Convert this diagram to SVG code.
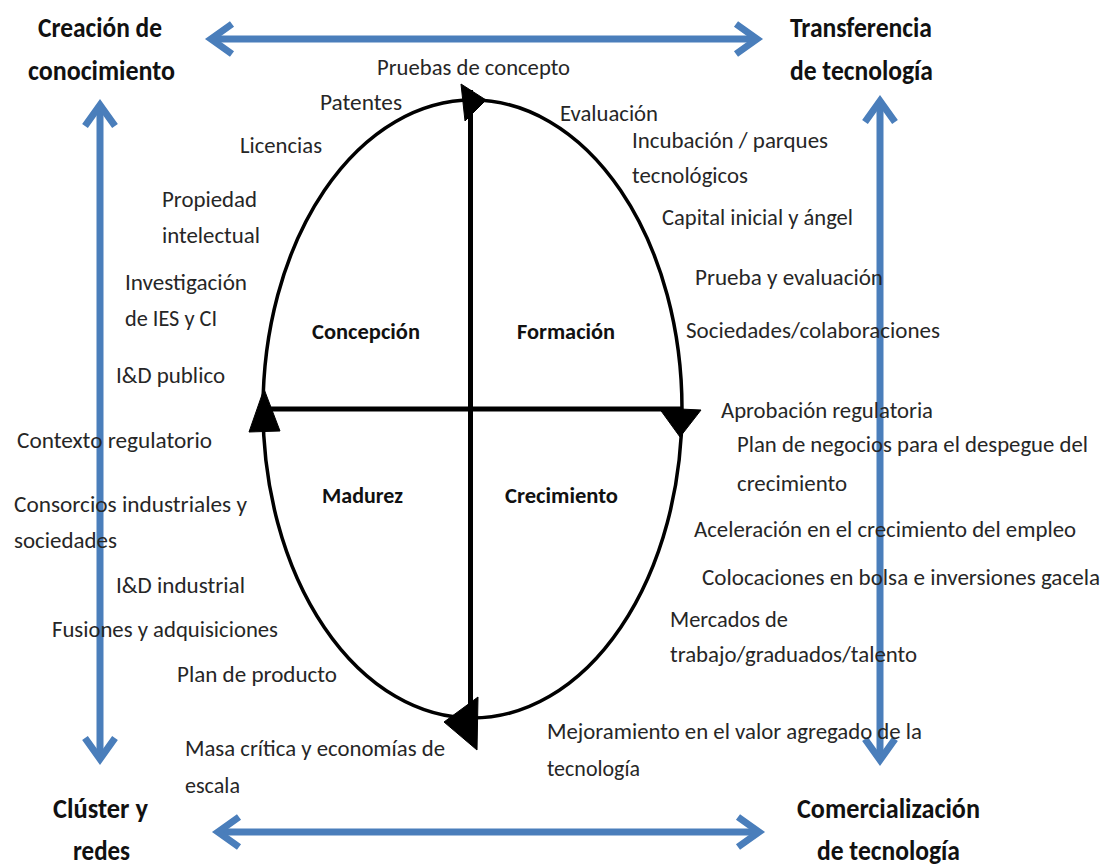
<svg xmlns="http://www.w3.org/2000/svg" width="1108" height="868" viewBox="0 0 1108 868">
<style>
.t{font-family:Carlito,Lato,"Liberation Sans",sans-serif;font-size:23px;fill:#262626}
.q{font-family:Carlito,Lato,"Liberation Sans",sans-serif;font-size:22px;font-weight:bold;fill:#111}
.c{font-family:Carlito,Lato,"Liberation Sans",sans-serif;font-size:28px;font-weight:bold;fill:#111}
.blue{stroke:#4a7ebb;stroke-width:7;fill:none}
.blk{stroke:#000;fill:none}
.head{fill:#000;stroke:#000;stroke-width:1;stroke-linejoin:round}
</style>
<defs>
<marker id="chev" markerUnits="userSpaceOnUse" markerWidth="40" markerHeight="40" viewBox="-26 -20 32 40" refX="0" refY="0" orient="auto-start-reverse">
<path d="M-21,-15 L0,0 L-21,15" fill="none" stroke="#4a7ebb" stroke-width="7" stroke-linejoin="miter"/>
</marker>
</defs>
<rect width="1108" height="868" fill="#fff"/>
<g id="connectors">
<line class="blue" x1="211" y1="39" x2="757" y2="39" marker-start="url(#chev)" marker-end="url(#chev)"/>
<line class="blue" x1="218" y1="832" x2="759" y2="832" marker-start="url(#chev)" marker-end="url(#chev)"/>
<line class="blue" x1="100" y1="105" x2="100" y2="759" marker-start="url(#chev)" marker-end="url(#chev)"/>
<line class="blue" x1="880" y1="101" x2="880" y2="760" marker-start="url(#chev)" marker-end="url(#chev)"/>
<ellipse class="blk" cx="472.5" cy="409" rx="209.5" ry="309" stroke-width="3.5"/>
<line class="blk" x1="263" y1="409" x2="682" y2="409" stroke-width="5"/>
<line class="blk" x1="470.5" y1="90" x2="470.5" y2="712" stroke-width="5"/>
<polygon class="head" points="461,84 486,100 465,121"/>
<polygon class="head" points="264,389 249,432 280,431"/>
<polygon class="head" points="659,408 701,410 680,437"/>
<polygon class="head" points="478,697 444,722 477,750"/>
</g>
<g id="creacion"><text class="c" x="38" y="37" textLength="124" lengthAdjust="spacingAndGlyphs">Creación de</text><text class="c" x="28" y="80" textLength="147" lengthAdjust="spacingAndGlyphs">conocimiento</text></g>
<g id="transferencia"><text class="c" x="790" y="37" textLength="142" lengthAdjust="spacingAndGlyphs">Transferencia</text><text class="c" x="790" y="80" textLength="143" lengthAdjust="spacingAndGlyphs">de tecnología</text></g>
<g id="cluster"><text class="c" x="53" y="818" textLength="95" lengthAdjust="spacingAndGlyphs">Clúster y</text><text class="c" x="73" y="860" textLength="57" lengthAdjust="spacingAndGlyphs">redes</text></g>
<g id="comercializacion"><text class="c" x="797" y="818" textLength="183" lengthAdjust="spacingAndGlyphs">Comercialización</text><text class="c" x="817" y="860" textLength="143" lengthAdjust="spacingAndGlyphs">de tecnología</text></g>
<g id="concepcion"><text class="q" x="312" y="339" textLength="108" lengthAdjust="spacingAndGlyphs">Concepción</text></g>
<g id="formacion"><text class="q" x="517" y="339" textLength="98" lengthAdjust="spacingAndGlyphs">Formación</text></g>
<g id="madurez"><text class="q" x="322" y="503" textLength="81" lengthAdjust="spacingAndGlyphs">Madurez</text></g>
<g id="crecimiento"><text class="q" x="505" y="503" textLength="113" lengthAdjust="spacingAndGlyphs">Crecimiento</text></g>
<g id="pruebas-concepto"><text class="t" x="377" y="75" textLength="193" lengthAdjust="spacingAndGlyphs">Pruebas de concepto</text></g>
<g id="patentes"><text class="t" x="320" y="110" textLength="82" lengthAdjust="spacingAndGlyphs">Patentes</text></g>
<g id="evaluacion"><text class="t" x="560" y="121" textLength="98" lengthAdjust="spacingAndGlyphs">Evaluación</text></g>
<g id="incubacion"><text class="t" x="632" y="148" textLength="196" lengthAdjust="spacingAndGlyphs">Incubación / parques</text><text class="t" x="632" y="183" textLength="116" lengthAdjust="spacingAndGlyphs">tecnológicos</text></g>
<g id="licencias"><text class="t" x="240" y="153" textLength="82" lengthAdjust="spacingAndGlyphs">Licencias</text></g>
<g id="capital"><text class="t" x="662" y="225" textLength="191" lengthAdjust="spacingAndGlyphs">Capital inicial y ángel</text></g>
<g id="propiedad"><text class="t" x="162" y="207" textLength="95" lengthAdjust="spacingAndGlyphs">Propiedad</text><text class="t" x="162" y="243" textLength="98" lengthAdjust="spacingAndGlyphs">intelectual</text></g>
<g id="investigacion"><text class="t" x="125" y="290" textLength="122" lengthAdjust="spacingAndGlyphs">Investigación</text><text class="t" x="125" y="326" textLength="92" lengthAdjust="spacingAndGlyphs">de IES y CI</text></g>
<g id="prueba-evaluacion"><text class="t" x="695" y="285" textLength="188" lengthAdjust="spacingAndGlyphs">Prueba y evaluación</text></g>
<g id="sociedades-colab"><text class="t" x="686" y="338" textLength="254" lengthAdjust="spacingAndGlyphs">Sociedades/colaboraciones</text></g>
<g id="id-publico"><text class="t" x="116" y="383" textLength="109" lengthAdjust="spacingAndGlyphs">I&amp;D publico</text></g>
<g id="contexto"><text class="t" x="17" y="448" textLength="195" lengthAdjust="spacingAndGlyphs">Contexto regulatorio</text></g>
<g id="aprobacion"><text class="t" x="721" y="418" textLength="212" lengthAdjust="spacingAndGlyphs">Aprobación regulatoria</text></g>
<g id="plan-negocios"><text class="t" x="737" y="452" textLength="351" lengthAdjust="spacingAndGlyphs">Plan de negocios para el despegue del</text><text class="t" x="737" y="491" textLength="110" lengthAdjust="spacingAndGlyphs">crecimiento</text></g>
<g id="consorcios"><text class="t" x="14" y="512" textLength="233" lengthAdjust="spacingAndGlyphs">Consorcios industriales y</text><text class="t" x="14" y="548" textLength="103" lengthAdjust="spacingAndGlyphs">sociedades</text></g>
<g id="aceleracion"><text class="t" x="694" y="537" textLength="382" lengthAdjust="spacingAndGlyphs">Aceleración en el crecimiento del empleo</text></g>
<g id="colocaciones"><text class="t" x="702" y="585" textLength="398" lengthAdjust="spacingAndGlyphs">Colocaciones en bolsa e inversiones gacela</text></g>
<g id="id-industrial"><text class="t" x="116" y="593" textLength="129" lengthAdjust="spacingAndGlyphs">I&amp;D industrial</text></g>
<g id="fusiones"><text class="t" x="52" y="637" textLength="226" lengthAdjust="spacingAndGlyphs">Fusiones y adquisiciones</text></g>
<g id="mercados"><text class="t" x="670" y="627" textLength="118" lengthAdjust="spacingAndGlyphs">Mercados de</text><text class="t" x="670" y="662" textLength="247" lengthAdjust="spacingAndGlyphs">trabajo/graduados/talento</text></g>
<g id="plan-producto"><text class="t" x="177" y="682" textLength="160" lengthAdjust="spacingAndGlyphs">Plan de producto</text></g>
<g id="masa-critica"><text class="t" x="185" y="756" textLength="260" lengthAdjust="spacingAndGlyphs">Masa crítica y economías de</text><text class="t" x="185" y="793" textLength="55" lengthAdjust="spacingAndGlyphs">escala</text></g>
<g id="mejoramiento"><text class="t" x="547" y="739" textLength="375" lengthAdjust="spacingAndGlyphs">Mejoramiento en el valor agregado de la</text><text class="t" x="547" y="776" textLength="93" lengthAdjust="spacingAndGlyphs">tecnología</text></g>
</svg>
